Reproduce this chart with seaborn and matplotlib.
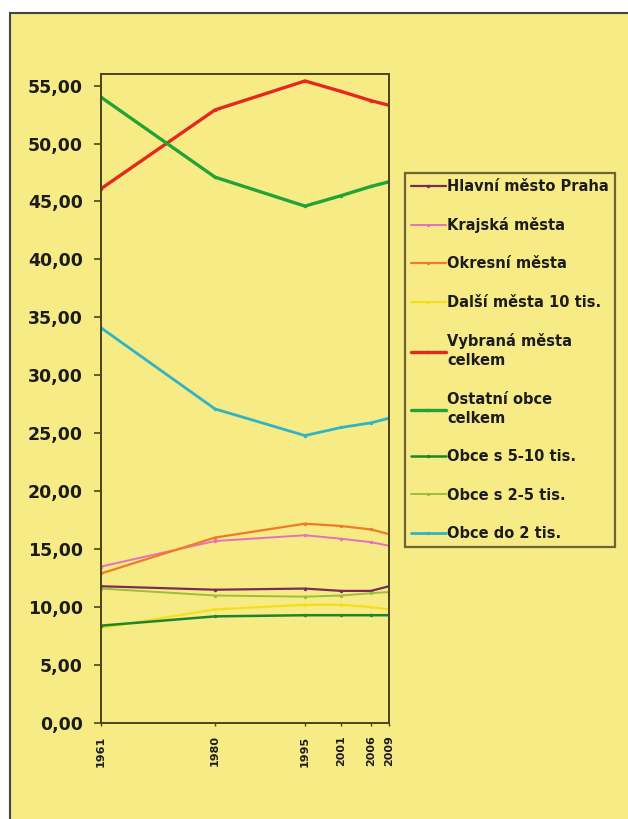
import matplotlib
matplotlib.use('Agg')
import pandas as pd
import seaborn as sns
import matplotlib.pyplot as plt
from matplotlib.patches import Rectangle

# Roky (osa x je číselná, proto nerovnoměrné rozestupy)
roky = [1961, 1980, 1995, 2001, 2006, 2009]

# Podíly obyvatel v % podle kategorie obcí
praha = [11.8, 11.5, 11.6, 11.4, 11.4, 11.8]
krajska = [13.5, 15.7, 16.2, 15.9, 15.6, 15.3]
okresni = [12.9, 16.0, 17.2, 17.0, 16.7, 16.3]
dalsi = [8.2, 9.8, 10.2, 10.2, 10.0, 9.8]
vybrana = [46.1, 52.9, 55.4, 54.5, 53.7, 53.3]
ostatni = [54.0, 47.1, 44.6, 45.5, 46.3, 46.7]
obce_5_10 = [8.4, 9.2, 9.3, 9.3, 9.3, 9.3]
obce_2_5 = [11.6, 11.0, 10.9, 11.0, 11.2, 11.3]
obce_do_2 = [34.1, 27.1, 24.8, 25.5, 25.9, 26.3]

nazvy = ['Hlavní město Praha', 'Krajská města', 'Okresní města', 'Další města 10 tis.',
         'Vybraná města\ncelkem', 'Ostatní obce\ncelkem', 'Obce s 5-10 tis.',
         'Obce s 2-5 tis.', 'Obce do 2 tis.']
hodnoty = [praha, krajska, okresni, dalsi, vybrana, ostatni, obce_5_10, obce_2_5, obce_do_2]
barvy = ['#7A2B58', '#E670BE', '#F07A2A', '#F3E01C', '#E5281E', '#22A336',
         '#1E852C', '#9DBE3C', '#2FB4C6']
tloustky = [1.6, 1.4, 1.6, 1.6, 2.4, 2.4, 1.8, 1.4, 2.0]

# Dlouhý formát pro seaborn
data = pd.DataFrame({
    'rok': roky * len(nazvy),
    'podil': [v for serie in hodnoty for v in serie],
    'kategorie': [n for n in nazvy for _ in roky],
})

zluta = '#F7EB85'
tmava = '#4A4420'
text = '#1C1C1C'

sns.set_style('white')
plt.rcParams['font.family'] = ['DejaVu Sans']
plt.rcParams['font.weight'] = 'bold'
plt.rcParams['text.color'] = text
plt.rcParams['xtick.labelcolor'] = text
plt.rcParams['ytick.labelcolor'] = text

fig = plt.figure(figsize=(6.28, 8.19), dpi=100)
fig.patch.set_facecolor('white')
# Žluté pozadí s tmavým okrajem nahoře a vlevo
fig.patches.append(Rectangle((10 / 628, -0.05), 1.1, 0.05 + 1 - 13 / 819,
                             transform=fig.transFigure, facecolor=zluta,
                             edgecolor='#444444', linewidth=1.5, zorder=-10))

ax = fig.add_axes([101 / 628, 1 - 723 / 819, 288 / 628, 649 / 819])
ax.set_facecolor(zluta)

for nazev, barva, lw in zip(nazvy, barvy, tloustky):
    sns.lineplot(data=data[data['kategorie'] == nazev], x='rok', y='podil',
                 color=barva, linewidth=lw, marker='o', markersize=2.5,
                 markeredgewidth=0, label=nazev, ax=ax)

ax.set_xlim(1961, 2009)
ax.set_ylim(0, 56)
ax.set_xticks(roky)
ax.set_xticklabels([str(r) for r in roky], rotation=90, fontsize=8, fontweight='bold')
ax.set_yticks(range(0, 56, 5))
ax.set_yticklabels([f'{v:.2f}'.replace('.', ',') for v in range(0, 56, 5)],
                   fontsize=12.5, fontweight='bold')
ax.tick_params(axis='y', length=5, width=1.2, color=tmava, pad=8, left=True)
ax.tick_params(axis='x', length=2, width=1.0, color=tmava, pad=7, bottom=True)
ax.set_xlabel('')
ax.set_ylabel('')
for s in ax.spines.values():
    s.set_color(tmava)
    s.set_linewidth(1.4)

leg = ax.legend(loc='upper left', bbox_to_anchor=(405 / 628, 1 - 173 / 819),
                bbox_transform=fig.transFigure, borderaxespad=0, frameon=True,
                fancybox=False, facecolor=zluta, edgecolor=tmava,
                prop={'size': 10.5, 'weight': 'bold'}, labelspacing=1.6,
                handlelength=2.4, handletextpad=0.1, borderpad=0.4)
leg.get_frame().set_linewidth(1.6)
for t in leg.get_texts():
    t.set_linespacing(1.35)

fig.savefig('out.png', dpi=100, facecolor=fig.get_facecolor())
